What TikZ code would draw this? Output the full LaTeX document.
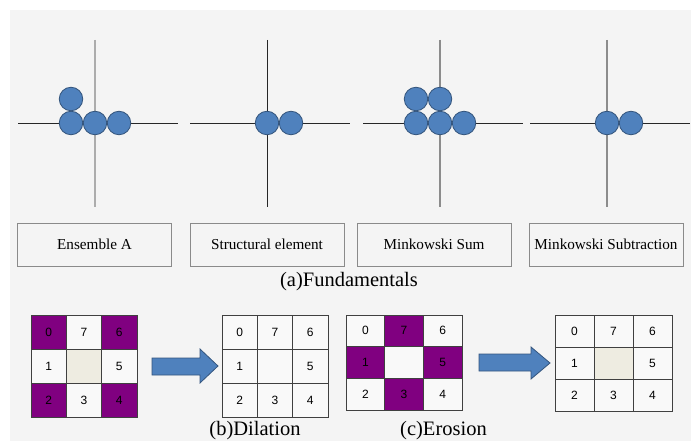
\documentclass[tikz,border=0pt]{standalone}
\usepackage{fontspec}
\setmainfont{Liberation Serif}
\setsansfont{Liberation Sans}

\definecolor{panelbg}{HTML}{F4F4F4}
\definecolor{dotfill}{HTML}{4F81BD}
\definecolor{dotline}{HTML}{34557D}
\definecolor{hotcell}{HTML}{800080}
\definecolor{midcell}{HTML}{EEECE1}
\definecolor{cellbg}{HTML}{F9F9F9}
\definecolor{gridline}{HTML}{404040}
\definecolor{boxline}{HTML}{8A8A8A}

\tikzset{
  dot/.style={circle, draw=dotline, fill=dotfill, line width=0.8pt,
    minimum size=23.5pt, inner sep=0pt},
  hline/.style={draw=gray!30!black, line width=0.9pt},
  vdark/.style={draw=gray!30!black, line width=0.9pt},
  vgray/.style={draw=gray!90, line width=1.3pt},
  vpale/.style={draw=gray!65, line width=2pt},
  namebox/.style={draw=boxline, fill=panelbg, line width=0.8pt,
    minimum width=154pt, minimum height=43pt,
    font=\fontsize{15.2}{17}\selectfont},
  cell/.style={draw=gridline, line width=0.8pt, inner sep=0pt,
    font=\sffamily\fontsize{12}{13}\selectfont},
  caption/.style={font=\fontsize{20.5}{22}\selectfont},
  blockarrow/.style={fill=dotfill, draw=dotline, line width=0.8pt}
}

% 3x3 number grid: name, left, top, cell width, cell height, fills
\newcommand{\numgrid}[6]{%
  \foreach \c [count=\i from 0] in {#6} {
    \pgfmathtruncatemacro\col{mod(\i,3)}
    \pgfmathtruncatemacro\row{int(\i/3)}
    \pgfmathtruncatemacro\lbl{{0,7,6,1,8,5,2,3,4}[\i]}
    \node[cell, fill=\c, minimum width=#4pt, minimum height=#5pt]
      (#1-\i) at ({#2+(\col+0.5)*#4}, {#3+(\row+0.5)*#5})
      {\ifnum\i=4 \else\lbl\fi};
  }
}

\begin{document}
\begin{tikzpicture}[x=1pt, y=-1pt]
  \useasboundingbox (0,0) rectangle (696,441);
  \fill[panelbg] (10,10) rectangle (691,441);

  % axes of the four panels
  \foreach \cx/\vs in {95/vpale, 267/vdark, 440/vgray, 607/vgray} {
    \draw[hline] ({\cx-77},123) -- ({\cx+83},123);
    \draw[\vs] (\cx,40) -- (\cx,207);
  }

  % ensemble A
  \node[dot] (a1) at (71,123) {};
  \node[dot] (a2) at (95,123) {};
  \node[dot] (a3) at (119,123) {};
  \node[dot] (a4) at (71,99) {};
  % structural element
  \node[dot] (b1) at (267,123) {};
  \node[dot] (b2) at (291,123) {};
  % Minkowski sum
  \node[dot] (s1) at (416,123) {};
  \node[dot] (s2) at (440,123) {};
  \node[dot] (s3) at (464,123) {};
  \node[dot] (s4) at (416,99) {};
  \node[dot] (s5) at (440,99) {};
  % Minkowski subtraction
  \node[dot] (d1) at (607,123) {};
  \node[dot] (d2) at (631,123) {};

  \node[namebox] (ensA) at (94.5,244.5) {Ensemble A};
  \node[namebox] (selem) at (267,244.5) {Structural element};
  \node[namebox] (msum) at (434,244.5) {Minkowski Sum};
  \node[namebox] (msub) at (606,244.5) {Minkowski Subtraction};
  \node[caption] (capA) at (349,282) {(a)Fundamentals};

  % dilation and erosion
  \numgrid{dilA}{31}{315}{35.3}{34}{hotcell,cellbg,hotcell,cellbg,midcell,cellbg,hotcell,cellbg,hotcell}
  \numgrid{dilB}{222}{315}{35.3}{34}{cellbg,cellbg,cellbg,cellbg,cellbg,cellbg,cellbg,cellbg,cellbg}
  \numgrid{eroA}{346}{315}{38.7}{31.7}{cellbg,hotcell,cellbg,hotcell,cellbg,hotcell,cellbg,hotcell,cellbg}
  \numgrid{eroB}{555}{315}{39}{32}{cellbg,cellbg,cellbg,cellbg,midcell,cellbg,cellbg,cellbg,cellbg}

  \draw[blockarrow] (152,358) -- (200,358) -- (200,349) -- (218,366)
    -- (200,383) -- (200,375) -- (152,375) -- cycle;
  \draw[blockarrow] (479,354) -- (531,354) -- (531,347) -- (550,363)
    -- (531,379) -- (531,371) -- (479,371) -- cycle;

  \node[caption] (capB) at (255,431) {(b)Dilation};
  \node[caption] (capC) at (443.5,431) {(c)Erosion};
\end{tikzpicture}
\end{document}
